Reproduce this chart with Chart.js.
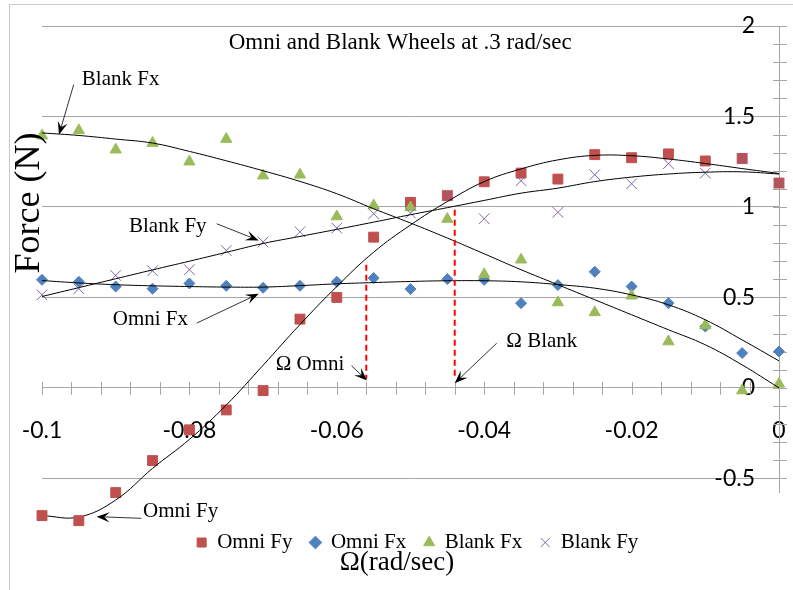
<!DOCTYPE html>
<html>
<head>
<meta charset="utf-8">
<title>Omni and Blank Wheels at .3 rad/sec</title>
<script src="https://cdn.jsdelivr.net/npm/chart.js@4.4.1/dist/chart.umd.min.js"></script>
<style>
  html, body { margin: 0; padding: 0; background: #fff; }
</style>
</head>
<body>
<canvas id="kraftChart" width="793" height="590"></canvas>
<script>
const omega = [-0.100, -0.095, -0.090, -0.085, -0.080, -0.075, -0.070, -0.065, -0.060, -0.055, -0.050,
               -0.045, -0.040, -0.035, -0.030, -0.025, -0.020, -0.015, -0.010, -0.005, 0];

const omniFy  = [-0.706, -0.734, -0.579, -0.402, -0.232, -0.122, -0.015, 0.380, 0.500, 0.833, 1.025,
                 1.062, 1.139, 1.187, 1.154, 1.289, 1.272, 1.293, 1.254, 1.268, 1.132];
const omniFx  = [0.597, 0.586, 0.560, 0.548, 0.577, 0.564, 0.553, 0.564, 0.586, 0.607, 0.546,
                 0.601, 0.597, 0.468, 0.568, 0.642, 0.560, 0.468, 0.339, 0.192, 0.201];
const blankFx = [1.394, 1.423, 1.316, 1.353, 1.250, 1.375, 1.173, 1.178, 0.947, 1.008, 0.997,
                 0.933, 0.627, 0.708, 0.472, 0.417, 0.509, 0.256, 0.345, -0.015, 0.022];
const blankFy = [0.514, 0.548, 0.621, 0.647, 0.653, 0.759, 0.806, 0.863, 0.883, 0.962, 0.966,
                 1.067, 0.935, 1.145, 0.970, 1.178, 1.128, 1.239, 1.187, 1.264, 1.130];

const trendOmniFy  = [-0.706, -0.714, -0.620, -0.445, -0.285, -0.095, 0.125, 0.350, 0.560, 0.750, 0.900,
                      1.030, 1.140, 1.210, 1.260, 1.285, 1.283, 1.265, 1.240, 1.212, 1.185];
const trendOmniFx  = [0.593, 0.580, 0.570, 0.564, 0.560, 0.557, 0.557, 0.565, 0.575, 0.582, 0.588,
                      0.592, 0.592, 0.586, 0.571, 0.551, 0.514, 0.459, 0.376, 0.265, 0.149];
const trendBlankFx = [1.409, 1.395, 1.375, 1.353, 1.307, 1.255, 1.200, 1.141, 1.073, 0.990, 0.911,
                      0.828, 0.741, 0.653, 0.570, 0.487, 0.404, 0.321, 0.238, 0.127, 0.000];
const trendBlankFy = [0.505, 0.554, 0.603, 0.652, 0.700, 0.749, 0.798, 0.837, 0.876, 0.916, 0.957,
                      0.996, 1.036, 1.076, 1.104, 1.140, 1.165, 1.182, 1.192, 1.194, 1.182];

// Rote Hilfslinien (Omega bei Omni / Blank)
const omegaOmniX  = [-0.056, -0.056];
const omegaOmniY  = [0.68, 0.05];
const omegaBlankX = [-0.044, -0.044];
const omegaBlankY = [0.985, 0.05];

// Achsen
const xMin = -0.1, xMax = 0, xSchritt = 0.004, xBeschriftung = 0.02;
const yMin = -0.58, yMax = 2, ySchritt = 0.1, yBeschriftung = 0.5;

// Beschriftungen mit Pfeil (Lage in Datenkoordinaten)
const hinweise = [
  { text: 'Blank Fx', x: -0.0946, y: 1.704, von: [-0.0957, 1.676], nach: [-0.0977, 1.399] },
  { text: 'Blank Fy', x: -0.0882, y: 0.890, von: [-0.0763, 0.907], nach: [-0.0706, 0.815] },
  { text: 'Omni Fx',  x: -0.0904, y: 0.376, von: [-0.0790, 0.358], nach: [-0.0706, 0.520] },
  { text: 'Ω Omni',   x: -0.0683, y: 0.127, von: [-0.0580, 0.122], nach: [-0.0559, 0.040] },
  { text: 'Ω Blank',  x: -0.0370, y: 0.256, von: [-0.0383, 0.247], nach: [-0.0440, 0.026] },
  { text: 'Omni Fy',  x: -0.0863, y: -0.684, von: [-0.0865, -0.721], nach: [-0.0926, -0.712] },
];

const SERIF = '"Liberation Serif", "Times New Roman", serif';
const ACHSENGRAU = '#a6a6a6';

const punkte = (xs, ys) => xs.map((w, i) => ({ x: w, y: ys[i] }));
const istVielfaches = (v, s) => Math.abs(v / s - Math.round(v / s)) < 1e-6;

function trend(label, werte) {
  return {
    label,
    data: punkte(omega, werte),
    showLine: true,
    borderColor: '#000',
    borderWidth: 1,
    pointRadius: 0,
    pointHitRadius: 0,
    tension: 0.4,
    clip: false,
    order: -1,
  };
}

function hilfslinie(label, xs, ys) {
  return {
    label,
    data: punkte(xs, ys),
    showLine: true,
    borderColor: '#ff0000',
    borderWidth: 2,
    borderDash: [6, 4],
    pointRadius: 0,
    order: -2,
  };
}

// --- Rahmen um das ganze Diagramm ---
const rahmen = {
  id: 'rahmen',
  beforeDraw(chart) {
    const { ctx } = chart;
    ctx.save();
    ctx.strokeStyle = '#c8c8c8';
    ctx.lineWidth = 1;
    ctx.strokeRect(9.5, 4.5, 1000, 1000);
    ctx.restore();
  }
};

// --- Teilstriche, die die Achsen kreuzen ---
const achsenStriche = {
  id: 'achsenStriche',
  beforeDatasetsDraw(chart) {
    const { ctx, scales: { x, y } } = chart;
    const y0 = y.getPixelForValue(0);
    const xr = x.right;
    ctx.save();
    ctx.strokeStyle = ACHSENGRAU;
    ctx.lineWidth = 1;
    ctx.beginPath();
    x.ticks.forEach(t => {
      const px = Math.round(x.getPixelForValue(t.value)) + 0.5;
      ctx.moveTo(px, y0 - 6);
      ctx.lineTo(px, y0 + 7);
    });
    y.ticks.forEach(t => {
      if (!istVielfaches(t.value, ySchritt)) return;
      const py = Math.round(y.getPixelForValue(t.value)) + 0.5;
      ctx.moveTo(xr - 6, py);
      ctx.lineTo(xr + 8, py);
    });
    ctx.stroke();
    ctx.restore();
  }
};

// Chart.js lässt Punkte außerhalb der Zeichenfläche weg; im Original ragen
// die ersten Omni-Fy-Werte unter die Y-Achse hinaus -> Elemente ohne Bereichsprüfung zeichnen
const randPunkte = {
  id: 'randPunkte',
  afterDatasetsDraw(chart) {
    const { ctx, chartArea } = chart;
    chart.data.datasets.forEach((ds, i) => {
      chart.getDatasetMeta(i).data.forEach(p => {
        if (p.options.radius > 0 && (p.y > chartArea.bottom || p.y < chartArea.top)) p.draw(ctx);
      });
    });
  }
};

function schreibe(ctx, text, px, py, groesse, ausrichtung) {
  ctx.font = `${groesse}px ${SERIF}`;
  ctx.fillStyle = '#000';
  ctx.textAlign = ausrichtung || 'left';
  ctx.textBaseline = 'middle';
  ctx.fillText(text, px, py);
}

// --- Titel, Achsentitel, Beschriftungen mit Pfeilen ---
const beschriftung = {
  id: 'beschriftung',
  afterDatasetsDraw(chart) {
    const { ctx, scales: { x, y } } = chart;
    ctx.save();

    schreibe(ctx, 'Omni and Blank Wheels at .3 rad/sec',
      x.getPixelForValue(-0.0514), y.getPixelForValue(1.908), 23, 'center');

    hinweise.forEach(h => {
      schreibe(ctx, h.text, x.getPixelForValue(h.x), y.getPixelForValue(h.y), 21);

      const x1 = x.getPixelForValue(h.von[0]), y1 = y.getPixelForValue(h.von[1]);
      const x2 = x.getPixelForValue(h.nach[0]), y2 = y.getPixelForValue(h.nach[1]);
      const w = Math.atan2(y2 - y1, x2 - x1);
      const cos = Math.cos(w), sin = Math.sin(w);
      const L = 13, B = 5;

      ctx.strokeStyle = '#000';
      ctx.lineWidth = 0.8;
      ctx.beginPath();
      ctx.moveTo(x1, y1);
      ctx.lineTo(x2 - 0.6 * L * cos, y2 - 0.6 * L * sin);
      ctx.stroke();

      // Pfeilspitze mit Kerbe
      ctx.fillStyle = '#000';
      ctx.beginPath();
      ctx.moveTo(x2, y2);
      ctx.lineTo(x2 - L * cos + B * sin, y2 - L * sin - B * cos);
      ctx.lineTo(x2 - 0.6 * L * cos, y2 - 0.6 * L * sin);
      ctx.lineTo(x2 - L * cos - B * sin, y2 - L * sin + B * cos);
      ctx.closePath();
      ctx.fill();
    });

    // Achsentitel
    schreibe(ctx, 'Ω(rad/sec)', 397, 563, 27, 'center');
    ctx.translate(30, 203);
    ctx.rotate(-Math.PI / 2);
    schreibe(ctx, 'Force (N)', 0, 0, 36, 'center');

    ctx.restore();
  }
};

new Chart(document.getElementById('kraftChart'), {
  type: 'scatter',
  data: {
    datasets: [
      { label: 'Omni Fy', data: punkte(omega, omniFy), pointStyle: 'rect', pointRadius: 7,
        backgroundColor: '#C0504D', borderColor: '#C0504D', borderWidth: 1, clip: false, order: 3 },
      { label: 'Omni Fx', data: punkte(omega, omniFx), pointStyle: 'rectRot', pointRadius: 5.5,
        backgroundColor: '#4F81BD', borderColor: '#4F81BD', borderWidth: 1, clip: false, order: 2 },
      { label: 'Blank Fx', data: punkte(omega, blankFx), pointStyle: 'triangle', pointRadius: 6.5,
        backgroundColor: '#9BBB59', borderColor: '#9BBB59', borderWidth: 1, clip: false, order: 1 },
      { label: 'Blank Fy', data: punkte(omega, blankFy), pointStyle: 'crossRot', pointRadius: 7.5,
        backgroundColor: '#8064A2', borderColor: '#8064A2', borderWidth: 1, clip: false, order: 0 },
      trend('Trend Omni Fy', trendOmniFy),
      trend('Trend Omni Fx', trendOmniFx),
      trend('Trend Blank Fx', trendBlankFx),
      trend('Trend Blank Fy', trendBlankFy),
      hilfslinie('Omega Omni', omegaOmniX, omegaOmniY),
      hilfslinie('Omega Blank', omegaBlankX, omegaBlankY),
    ]
  },
  options: {
    responsive: false,
    animation: false,
    layout: { padding: { left: 42, right: 0, top: 26, bottom: 27 } },
    plugins: {
      tooltip: { enabled: false },
      legend: {
        position: 'bottom',
        title: { display: true, text: '', padding: { top: 20, bottom: 0 }, font: { size: 1 } },
        labels: {
          filter: (item) => item.datasetIndex < 4,
          // Reihenfolge wie im Original, unabhängig von der Zeichenreihenfolge
          sort: (a, b) => a.datasetIndex - b.datasetIndex,
          usePointStyle: true,
          boxWidth: 10,
          boxHeight: 9,
          padding: 18,
          color: '#000',
          font: { family: SERIF, size: 21 },
        },
      },
    },
    scales: {
      x: {
        type: 'linear',
        position: { y: 0 },
        min: xMin,
        max: xMax,
        grid: { display: true, drawOnChartArea: false, drawTicks: true, tickLength: 29, tickColor: 'rgba(0,0,0,0)' },
        border: { display: true, color: ACHSENGRAU, width: 1 },
        ticks: {
          stepSize: xSchritt,
          autoSkip: false,
          maxRotation: 0,
          minRotation: 0,
          padding: 0,
          color: '#000',
          font: { family: 'Lato', size: 23 },
          callback: (v) => {
            if (!istVielfaches(v, xBeschriftung)) return '';
            if (Math.abs(v) < 1e-9) return '0';
            return String(parseFloat(v.toFixed(3)));
          },
        },
      },
      y: {
        type: 'linear',
        position: 'right',
        min: yMin,
        max: yMax,
        afterFit: (skala) => { skala.width = 14; },
        grid: {
          drawTicks: false,
          color: (c) => (c.tick && istVielfaches(c.tick.value, yBeschriftung)) ? ACHSENGRAU : 'rgba(0,0,0,0)',
        },
        border: { display: true, color: ACHSENGRAU, width: 1 },
        ticks: {
          stepSize: ySchritt,
          includeBounds: false,
          autoSkip: false,
          mirror: true,
          padding: -24,
          color: '#000',
          font: { family: 'Lato', size: 23 },
          callback: (v) => istVielfaches(v, yBeschriftung) ? String(Math.round(v * 10) / 10) : '',
        },
      },
    },
  },
  plugins: [rahmen, achsenStriche, randPunkte, beschriftung],
});
</script>
</body>
</html>
